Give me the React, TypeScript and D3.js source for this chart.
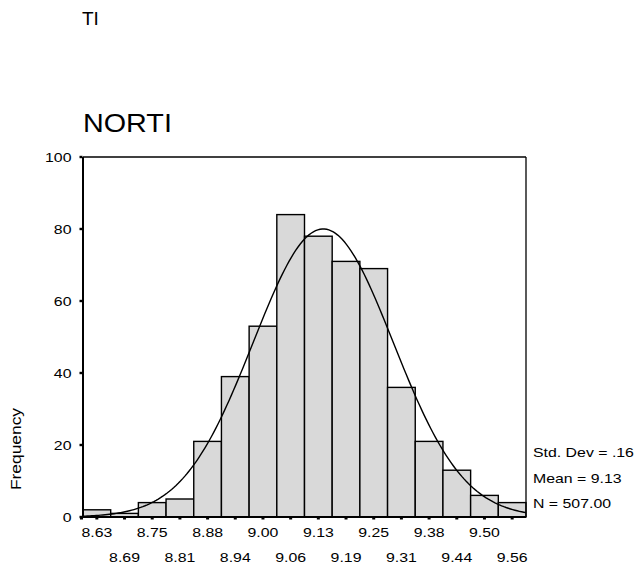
import React from "react";
import * as d3 from "d3";

const binLabels = ["8.63","8.69","8.75","8.81","8.88","8.94","9.00","9.06","9.13","9.19","9.25","9.31","9.38","9.44","9.50","9.56"];
const binMids = [8.625,8.6875,8.75,8.8125,8.875,8.9375,9.0,9.0625,9.125,9.1875,9.25,9.3125,9.375,9.4375,9.5,9.5625];
const counts = [2,1,4,5,21,39,53,84,78,71,69,36,21,13,6,4];
const yTicks = [0,20,40,60,80,100];
const statsLines = ["Std. Dev = .16","Mean = 9.13","N = 507.00"];
const fitMean = 9.136;
const fitSd = 0.158;
const totalN = 507;
const binWidth = 0.0625;

const FONT = "'Liberation Sans', Arial, Helvetica, sans-serif";

function T({x,y,size,sx=1.22,anchor="start",rotate=0,children}:{x:number;y:number;size:number;sx?:number;anchor?:string;rotate?:number;children:any}) {
  return (
    <text
      transform={`translate(${x},${y}) rotate(${rotate}) scale(${sx},1)`}
      fontSize={size}
      fontFamily={FONT}
      textAnchor={anchor as any}
      fill="#000"
    >{children}</text>
  );
}

export default function App() {
  const L = 83, R = 526, TOP = 157, B = 517;
  const x = d3.scaleLinear().domain([binMids[0]-binWidth/2, binMids[binMids.length-1]+binWidth/2]).range([L, R]);
  const y = d3.scaleLinear().domain([0,100]).range([B, TOP]);

  const pdf = (v:number) => totalN*binWidth/(fitSd*Math.sqrt(2*Math.PI))*Math.exp(-0.5*((v-fitMean)/fitSd)**2);
  const [d0,d1] = x.domain();
  const pts = d3.range(0,201).map(i => d0 + (d1-d0)*i/200);
  const line = d3.line<number>().x(v => x(v)).y(v => y(pdf(v))).curve(d3.curveLinear);

  return (
    <svg width={637} height={568} style={{position:"absolute",left:0,top:0,background:"#fff"}}>
      <rect x={0} y={0} width={637} height={568} fill="#fff"/>
      <T x={82} y={25} size={19} sx={1.0}>TI</T>
      <T x={83} y={132} size={25} sx={1.15}>NORTI</T>

      {/* bars */}
      {counts.map((c,i) => (
        <rect key={i}
          x={x(binMids[i]-binWidth/2)}
          y={y(c)}
          width={x(binMids[i]+binWidth/2)-x(binMids[i]-binWidth/2)}
          height={y(0)-y(c)}
          fill="#d9d9d9" stroke="#000" strokeWidth={1.4}/>
      ))}

      {/* frame */}
      <line x1={L} y1={TOP} x2={R} y2={TOP} stroke="#000" strokeWidth={1.3}/>
      <line x1={R} y1={TOP} x2={R} y2={B} stroke="#000" strokeWidth={1.3}/>
      <line x1={L} y1={B} x2={R} y2={B} stroke="#000" strokeWidth={2}/>
      <line x1={L} y1={TOP} x2={L} y2={B} stroke="#000" strokeWidth={2}/>

      {/* curve */}
      <path d={line(pts) || ""} fill="none" stroke="#000" strokeWidth={1.4}/>

      {/* y ticks */}
      {yTicks.map(t => (
        <g key={t}>
          <rect x={L-3.5} y={y(t)-1.2} width={3} height={2.4} fill="#000"/>
          <T x={71.5} y={y(t)+4.5} size={13} anchor="end">{String(t)}</T>
        </g>
      ))}

      {/* x ticks and labels */}
      {binMids.map((m,i) => (
        <g key={i}>
          <rect x={x(m)-1.5} y={B} width={3} height={2.5} fill="#000"/>
          <T x={x(m)} y={i%2===0 ? 537 : 561.5} size={13} anchor="middle">{binLabels[i]}</T>
        </g>
      ))}
      <rect x={L-3} y={B} width={3} height={2.5} fill="#000"/>

      <T x={21} y={449} size={14.5} sx={1.2} anchor="middle" rotate={-90}>Frequency</T>

      {statsLines.map((s,i) => (
        <T key={i} x={533} y={457 + i*25.5} size={13}>{s}</T>
      ))}
    </svg>
  );
}
